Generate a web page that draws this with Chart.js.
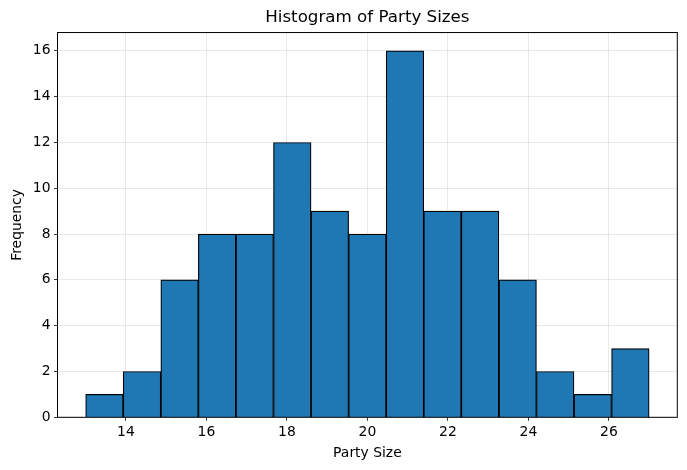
<!DOCTYPE html>
<html lang="en">
<head>
    <meta charset="UTF-8">
    <title>Histogram of Party Sizes</title>
    <script src="https://cdn.jsdelivr.net/npm/chart.js"></script>
    <style>
        html, body {
            margin: 0;
            padding: 0;
            background: #ffffff;
        }
        canvas {
            display: block;
        }
    </style>
</head>
<body>

<canvas id="histChart" width="687" height="470"></canvas>

<script>
    // bin edges (15 bins from 13 to 27) and counts per bin
    const binEdges = [13, 13.933, 14.867, 15.8, 16.733, 17.667, 18.6, 19.533, 20.467, 21.4, 22.333, 23.267, 24.2, 25.133, 26.067, 27];
    const counts = [1, 2, 6, 8, 8, 12, 9, 8, 16, 9, 9, 6, 2, 1, 3];
    const xTicks = [14, 16, 18, 20, 22, 24, 26];
    const yTicks = [0, 2, 4, 6, 8, 10, 12, 14, 16];

    const points = counts.map((c, i) => ({ x: (binEdges[i] + binEdges[i + 1]) / 2, y: c }));

    const FONT = 'DejaVu Sans';
    const GRID = 'rgba(176,176,176,0.35)';

    // draw the full axes frame (matplotlib spines)
    const framePlugin = {
        id: 'frame',
        afterDraw(chart) {
            const a = chart.chartArea;
            const c = chart.ctx;
            c.save();
            c.strokeStyle = '#000000';
            c.lineWidth = 1;
            c.strokeRect(a.left, a.top, a.right - a.left, a.bottom - a.top);
            c.restore();
        }
    };

    const ctx = document.getElementById('histChart').getContext('2d');
    const histChart = new Chart(ctx, {
        type: 'bar',
        data: {
            datasets: [{
                label: 'Party Size',
                data: points,
                backgroundColor: '#1f77b4',
                borderColor: '#000000',
                borderWidth: 1.2,
                barPercentage: 1,
                categoryPercentage: 1
            }]
        },
        options: {
            responsive: false,
            animation: false,
            layout: { padding: { left: 0, right: 9.7, top: 0, bottom: 0 } },
            plugins: {
                legend: { display: false },
                tooltip: { enabled: false },
                title: {
                    display: true,
                    fullSize: false,
                    text: 'Histogram of Party Sizes',
                    color: '#000000',
                    font: { family: FONT, size: 16.7, weight: 'normal', lineHeight: 1.2 },
                    padding: { top: 8, bottom: 4.5 }
                }
            },
            scales: {
                x: {
                    type: 'linear',
                    z: 1, // grid over the bars, as in the source
                    min: 12.3,
                    max: 27.7,
                    offset: false,
                    afterBuildTicks: s => { s.ticks = xTicks.map(v => ({ value: v })); },
                    afterFit: s => { s.height = 52.7; },
                    grid: {
                        offset: false,
                        color: GRID,
                        tickColor: '#000000',
                        tickLength: 3.5,
                        lineWidth: 0.8
                    },
                    border: { display: false },
                    ticks: {
                        color: '#000000',
                        padding: 3,
                        maxRotation: 0,
                        font: { family: FONT, size: 13.9 }
                    },
                    title: {
                        display: true,
                        text: 'Party Size',
                        color: '#000000',
                        font: { family: FONT, size: 13.9, lineHeight: 1.2 },
                        padding: { top: 0, bottom: 8.7 }
                    }
                },
                y: {
                    z: 1,
                    min: 0,
                    max: 16.8,
                    afterBuildTicks: s => { s.ticks = yTicks.map(v => ({ value: v })); },
                    afterFit: s => { s.width = 57.5; },
                    grid: {
                        color: GRID,
                        tickColor: '#000000',
                        tickLength: 3.5,
                        lineWidth: 0.8
                    },
                    border: { display: false },
                    ticks: {
                        color: '#000000',
                        padding: 3.5,
                        font: { family: FONT, size: 13.9 }
                    },
                    title: {
                        display: true,
                        text: 'Frequency',
                        color: '#000000',
                        font: { family: FONT, size: 13.9, lineHeight: 1.2 },
                        padding: { top: 8.7, bottom: 0 }
                    }
                }
            }
        },
        plugins: [framePlugin]
    });
</script>

</body>
</html>
